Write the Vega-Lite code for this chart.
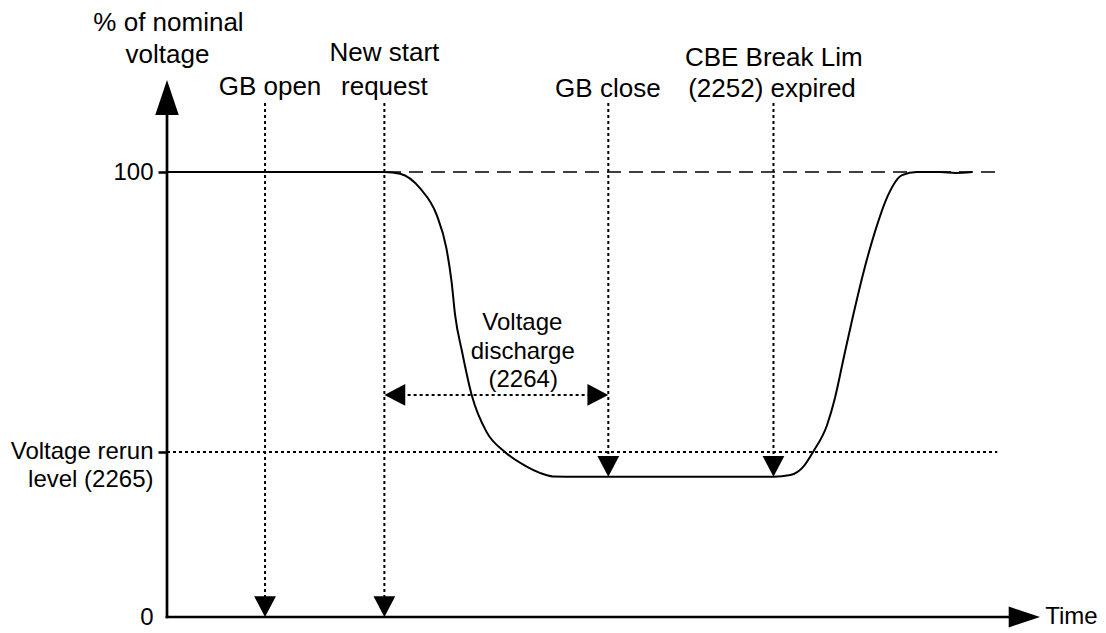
{
  "$schema": "https://vega.github.io/schema/vega-lite/v6.json",
  "autosize": {"type": "none"},
  "padding": {"left": 167, "top": 172, "right": 66, "bottom": 16},
  "width": 873,
  "height": 445,
  "background": "white",
  "config": {"view": {"stroke": null}, "font": "Liberation Sans"},
  "datasets": {
    "curve": [
      {"t": 0, "v": 100}, {"t": 24.9, "v": 100}, {"t": 26.7, "v": 99.6}, {"t": 29.0, "v": 96.3},
      {"t": 30.9, "v": 90.3}, {"t": 32.0, "v": 82.9}, {"t": 32.6, "v": 75.3}, {"t": 33.0, "v": 67.9},
      {"t": 33.8, "v": 59.6}, {"t": 34.9, "v": 49.9}, {"t": 36.6, "v": 41.6}, {"t": 38.7, "v": 37.1},
      {"t": 41.2, "v": 33.8}, {"t": 42.7, "v": 32.4}, {"t": 44.2, "v": 31.6}, {"t": 47.3, "v": 31.5},
      {"t": 69.5, "v": 31.5}, {"t": 71.4, "v": 31.9}, {"t": 72.9, "v": 33.8}, {"t": 74.0, "v": 37.1},
      {"t": 75.6, "v": 43.1}, {"t": 76.5, "v": 49.1}, {"t": 77.5, "v": 58.1}, {"t": 78.6, "v": 67.8},
      {"t": 79.8, "v": 77.6}, {"t": 81.1, "v": 86.6}, {"t": 82.6, "v": 94.8}, {"t": 84.2, "v": 99.3},
      {"t": 85.9, "v": 100}, {"t": 88.6, "v": 100}, {"t": 90.3, "v": 99.8}, {"t": 92.2, "v": 100}
    ],
    "segments": [
      {"kind": "axis", "t": 0, "v": 0, "t2": 0, "v2": 114.6},
      {"kind": "axis", "t": 0, "v": 0, "t2": 97.3, "v2": 0},
      {"kind": "dashed", "t": 0, "v": 100, "t2": 95.1, "v2": 100},
      {"kind": "dotted", "t": 0, "v": 37.1, "t2": 95.1, "v2": 37.1},
      {"kind": "dotted", "t": 11.23, "v": 115.5, "t2": 11.23, "v2": 1},
      {"kind": "dotted", "t": 24.9, "v": 115.5, "t2": 24.9, "v2": 1},
      {"kind": "dotted", "t": 50.55, "v": 115.5, "t2": 50.55, "v2": 32.5},
      {"kind": "dotted", "t": 69.47, "v": 115.5, "t2": 69.47, "v2": 32.5},
      {"kind": "dotted", "t": 25.5, "v": 49.9, "t2": 50.0, "v2": 49.9}
    ],
    "arrows": [
      {"t": 11.23, "v": 0, "dir": "down"},
      {"t": 24.9, "v": 0, "dir": "down"},
      {"t": 50.55, "v": 31.5, "dir": "down"},
      {"t": 69.47, "v": 31.5, "dir": "down"},
      {"t": 24.9, "v": 49.9, "dir": "left"},
      {"t": 50.55, "v": 49.9, "dir": "right"},
      {"t": 0, "v": 120.7, "dir": "axis-up"},
      {"t": 100, "v": 0, "dir": "axis-right"}
    ],
    "labels": [
      {"kind": "top", "t": 0.17, "v": 133.5, "label": "% of nominal"},
      {"kind": "top", "t": 0.06, "v": 126.3, "label": "voltage"},
      {"kind": "top", "t": 11.8, "v": 119.1, "label": "GB open"},
      {"kind": "top", "t": 24.9, "v": 126.7, "label": "New start"},
      {"kind": "top", "t": 24.9, "v": 119.1, "label": "request"},
      {"kind": "top", "t": 50.5, "v": 118.7, "label": "GB close"},
      {"kind": "top", "t": 69.5, "v": 125.6, "label": "CBE Break Lim"},
      {"kind": "top", "t": 69.3, "v": 118.7, "label": "(2252) expired"},
      {"kind": "mid", "t": 40.7, "v": 66.1, "label": "Voltage"},
      {"kind": "mid", "t": 40.75, "v": 59.6, "label": "discharge"},
      {"kind": "mid", "t": 40.8, "v": 53.3, "label": "(2264)"},
      {"kind": "time", "t": 100.6, "v": 0, "label": "Time"}
    ]
  },
  "encoding": {
    "x": {"field": "t", "type": "quantitative", "scale": {"domain": [0, 100], "nice": false, "zero": false}, "axis": null},
    "y": {
      "field": "v", "type": "quantitative",
      "scale": {"domain": [0, 100], "nice": false, "zero": false},
      "axis": {
        "title": null,
        "values": [0, 37.1, 100],
        "labelExpr": "datum.value == 100 ? '100' : (datum.value == 0 ? '0' : ['Voltage rerun', 'level (2265)'])",
        "domain": false,
        "grid": false,
        "tickSize": 9,
        "tickWidth": 2.5,
        "tickColor": "black",
        "tickOpacity": {"condition": {"test": "datum.value == 0", "value": 0}, "value": 1},
        "labelFont": "Liberation Sans",
        "labelFontSize": 24,
        "labelColor": "black",
        "labelPadding": 5,
        "labelLineHeight": 28,
        "labelBound": false,
        "labelFlush": false,
        "labelOverlap": false
      }
    }
  },
  "layer": [
    {
      "data": {"name": "segments"},
      "transform": [{"filter": "datum.kind == 'dashed'"}],
      "mark": {"type": "rule", "color": "black", "strokeWidth": 1.6, "strokeDash": [14, 8]},
      "encoding": {"x2": {"field": "t2"}, "y2": {"field": "v2"}}
    },
    {
      "data": {"name": "segments"},
      "transform": [{"filter": "datum.kind == 'dotted'"}],
      "mark": {"type": "rule", "color": "black", "strokeWidth": 2, "strokeDash": [3, 3]},
      "encoding": {"x2": {"field": "t2"}, "y2": {"field": "v2"}}
    },
    {
      "data": {"name": "curve"},
      "mark": {"type": "line", "color": "black", "strokeWidth": 2, "interpolate": "monotone"}
    },
    {
      "data": {"name": "segments"},
      "transform": [{"filter": "datum.kind == 'axis'"}],
      "mark": {"type": "rule", "color": "black", "strokeWidth": 2.7, "strokeCap": "square"},
      "encoding": {"x2": {"field": "t2"}, "y2": {"field": "v2"}}
    },
    {
      "data": {"name": "arrows"},
      "mark": {"type": "point", "filled": true, "color": "black", "opacity": 1, "size": 170, "strokeWidth": 0},
      "encoding": {
        "shape": {
          "field": "dir", "type": "nominal", "legend": null,
          "scale": {
            "domain": ["down", "left", "right", "axis-up", "axis-right"],
            "range": [
              "M0,0L-1.67,-3.2L1.67,-3.2Z",
              "M0,0L3.2,-1.67L3.2,1.67Z",
              "M0,0L-3.2,-1.67L-3.2,1.67Z",
              "M0,0L-1.8,5.4L1.8,5.4Z",
              "M0,0L-4.8,-1.6L-4.8,1.6Z"
            ]
          }
        }
      }
    },
    {
      "data": {"name": "labels"},
      "transform": [{"filter": "datum.kind == 'top'"}],
      "mark": {"type": "text", "font": "Liberation Sans", "fontSize": 26, "color": "black", "align": "center", "baseline": "middle"},
      "encoding": {"text": {"field": "label"}}
    },
    {
      "data": {"name": "labels"},
      "transform": [{"filter": "datum.kind == 'mid'"}],
      "mark": {"type": "text", "font": "Liberation Sans", "fontSize": 24, "color": "black", "align": "center", "baseline": "middle"},
      "encoding": {"text": {"field": "label"}}
    },
    {
      "data": {"name": "labels"},
      "transform": [{"filter": "datum.kind == 'time'"}],
      "mark": {"type": "text", "font": "Liberation Sans", "fontSize": 24, "color": "black", "align": "left", "baseline": "middle"},
      "encoding": {"text": {"field": "label"}}
    }
  ]
}
